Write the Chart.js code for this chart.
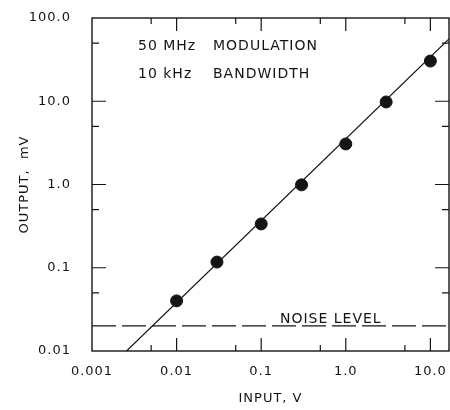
<!DOCTYPE html>
<html><head><meta charset="utf-8">
<script src="https://cdn.jsdelivr.net/npm/chart.js@4.4.0/dist/chart.umd.min.js"></script>
<style>html,body{margin:0;padding:0;background:#fff}#wrap{width:450px;height:410px;position:relative}</style>
</head><body><div id="wrap"><canvas id="c"></canvas></div>
<script>
// measured points
const inputV = [0.01, 0.03, 0.1, 0.3, 1.0, 3.0, 10.0];
const outputMV = [0.04, 0.117, 0.336, 0.99, 3.07, 9.8, 30.4];
// fitted straight line (end points)
const fitInput = [0.00256, 16.6];
const fitOutput = [0.01, 55.9];
// noise level
const noiseInput = [0.001, 16.6];
const noiseOutput = [0.02, 0.02];
// ticks
const xTickValues = [0.001, 0.01, 0.1, 1, 10];
const xTickLabels = ['0.001', '0.01', '0.1', '1.0', '10.0'];
const yTickValues = [0.01, 0.1, 1, 10, 100];
const yTickLabels = ['0.01', '0.1', '1.0', '10.0', '100.0'];
const xMinorValues = [0.005, 0.05, 0.5, 5];
const yMinorValues = [0.05, 0.5, 5, 50];
const xRange = [0.001, 16.6];
const yRange = [0.01, 100];

const FONT = '"DejaVu Sans", sans-serif';
const INK = '#141414';

const toXY = (xs, ys) => xs.map((v, i) => ({x: v, y: ys[i]}));

const framePlugin = {
  id: 'frame',
  beforeUpdate(chart) { chart.ctx.letterSpacing = '1px'; },
  beforeDraw(chart) { chart.ctx.letterSpacing = '1px'; },
  afterDatasetsDraw(chart) {
    const {ctx, chartArea: a, scales: {x, y}} = chart;
    ctx.save();
    ctx.strokeStyle = INK;
    ctx.lineWidth = 1.4;
    ctx.strokeRect(a.left, a.top, a.right - a.left, a.bottom - a.top);
    ctx.lineWidth = 1.2;
    ctx.beginPath();
    const xt = (vals, len) => vals.forEach(v => {
      const px = x.getPixelForValue(v);
      ctx.moveTo(px, a.bottom); ctx.lineTo(px, a.bottom - len);
      ctx.moveTo(px, a.top); ctx.lineTo(px, a.top + len);
    });
    const yt = (vals, len) => vals.forEach(v => {
      const py = y.getPixelForValue(v);
      ctx.moveTo(a.left, py); ctx.lineTo(a.left + len, py);
      ctx.moveTo(a.right, py); ctx.lineTo(a.right - len, py);
    });
    xt(xTickValues.slice(1), 13); xt(xMinorValues, 6);
    yt(yTickValues.slice(1, -1), 14); yt(yMinorValues, 7);
    ctx.stroke();
    ctx.restore();
  },
  afterDraw(chart) {
    const {ctx, scales: {y}} = chart;
    ctx.save();
    ctx.letterSpacing = '1px';
    ctx.fillStyle = INK;
    ctx.font = '14px ' + FONT;
    ctx.textBaseline = 'middle';
    ctx.textAlign = 'left';
    ctx.fillText('50 MHz', 138, 46);
    ctx.fillText('MODULATION', 213, 46);
    ctx.fillText('10 kHz', 138, 74);
    ctx.fillText('BANDWIDTH', 213, 74);
    ctx.textBaseline = 'alphabetic';
    ctx.fillText('NOISE LEVEL', 280, y.getPixelForValue(noiseOutput[0]) - 3);
    ctx.restore();
  }
};

new Chart(document.getElementById('c'), {
  type: 'scatter',
  data: {
    datasets: [
      {
        data: toXY(fitInput, fitOutput), showLine: true, borderColor: INK,
        borderWidth: 1.2, pointRadius: 0, order: 3
      },
      {
        data: toXY(noiseInput, noiseOutput), showLine: true, borderColor: INK,
        borderWidth: 1.3, borderDash: [24, 6], pointRadius: 0, order: 2
      },
      {
        data: toXY(inputV, outputMV), showLine: false, backgroundColor: INK,
        borderColor: INK, pointRadius: 6, pointHoverRadius: 6, order: 1
      }
    ]
  },
  options: {
    responsive: true, maintainAspectRatio: false, animation: false,
    layout: {autoPadding: false, padding: {top: 18, right: 1, left: 0, bottom: 0}},
    plugins: {legend: {display: false}, tooltip: {enabled: false}},
    scales: {
      x: {
        type: 'logarithmic', min: xRange[0], max: xRange[1],
        grid: {display: false}, border: {display: false},
        afterBuildTicks: s => { s.ticks = xTickValues.map(v => ({value: v})); },
        afterFit: s => { s.height = 59; s.paddingLeft = 0; s.paddingRight = 0; },
        ticks: {
          autoSkip: false, maxRotation: 0, padding: 5, color: INK,
          font: {family: FONT, size: 13},
          callback: (v, i) => xTickLabels[i]
        },
        title: {display: true, text: 'INPUT, V', color: INK,
          font: {family: FONT, size: 13}, padding: {top: 0, bottom: 4}}
      },
      y: {
        type: 'logarithmic', min: yRange[0], max: yRange[1],
        grid: {display: false}, border: {display: false},
        afterBuildTicks: s => { s.ticks = yTickValues.map(v => ({value: v})); },
        afterFit: s => { s.width = 92; s.paddingTop = 0; s.paddingBottom = 0; },
        ticks: {
          autoSkip: false, padding: 13, color: INK,
          font: {family: FONT, size: 13},
          callback: (v, i) => yTickLabels[i]
        },
        title: {display: true, text: 'OUTPUT,  mV', color: INK,
          font: {family: FONT, size: 13}, padding: {top: 17, bottom: 0}}
      }
    }
  },
  plugins: [framePlugin]
});
</script></body></html>
